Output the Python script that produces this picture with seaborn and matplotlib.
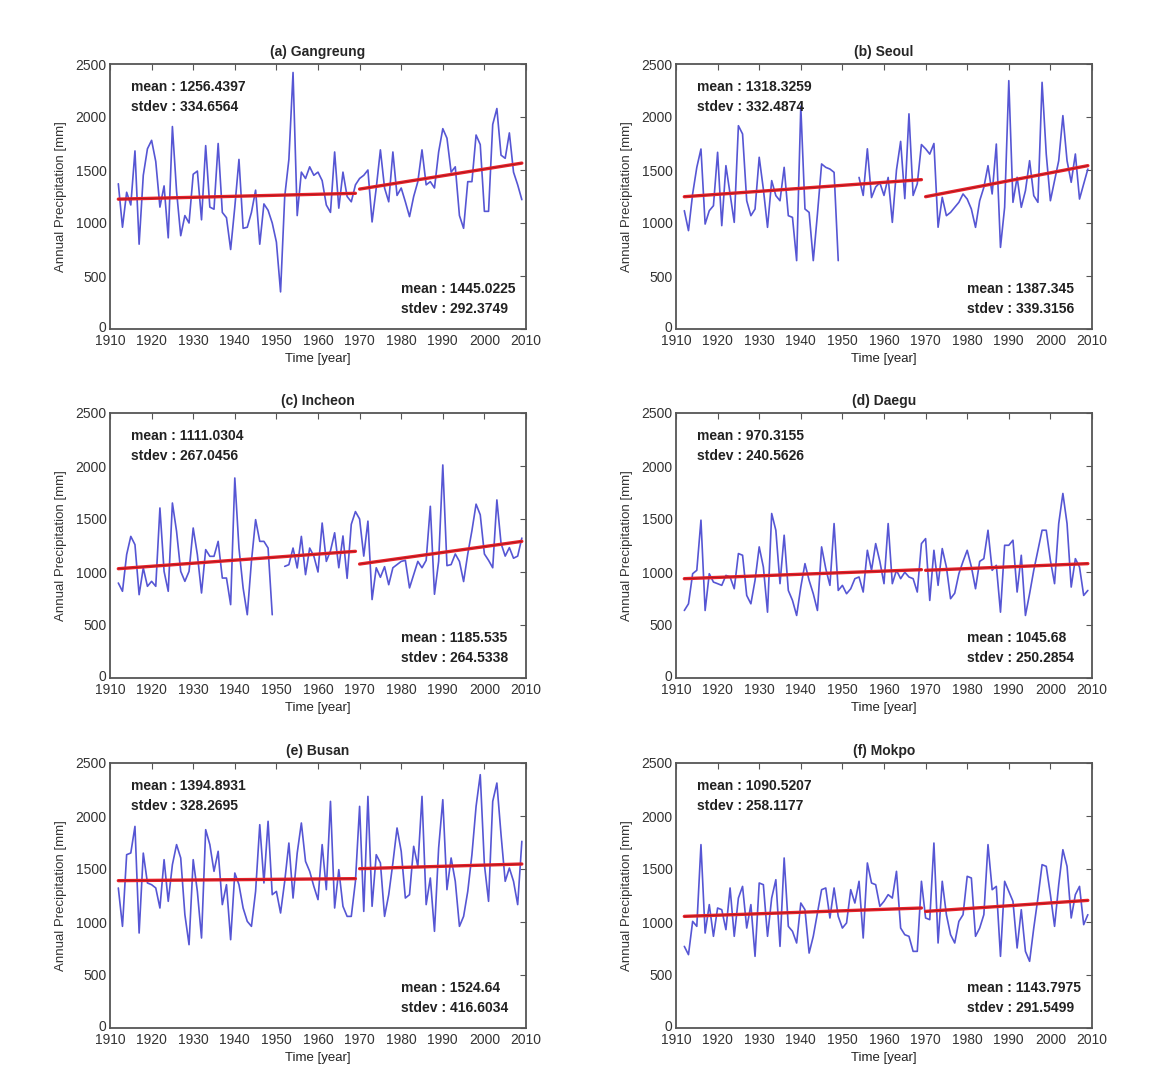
import numpy as np
import pandas as pd
import matplotlib
matplotlib.use("Agg")
import matplotlib.pyplot as plt
import matplotlib.transforms as mtransforms
import seaborn as sns

nan = np.nan
years = list(range(1912, 2010))

gangreung = [
    1370, 960, 1290, 1170, 1680, 800, 1450, 1700, 1780, 1580,
    1150, 1350, 860, 1910, 1300, 880, 1070, 1000, 1460, 1490,
    1030, 1730, 1150, 1130, 1750, 1100, 1050, 750, 1150, 1600,
    950, 960, 1100, 1310, 800, 1180, 1120, 1000, 820, 350,
    1250, 1600, 2420, 1070, 1480, 1420, 1530, 1450, 1480, 1400,
    1170, 1100, 1670, 1140, 1480, 1250, 1200, 1360, 1420, 1450,
    1500, 1010, 1330, 1690, 1330, 1200, 1670, 1260, 1330, 1200,
    1060, 1250, 1390, 1690, 1360, 1390, 1330, 1670, 1890, 1800,
    1480, 1530, 1070, 950, 1390, 1390, 1830, 1740, 1110, 1110,
    1930, 2080, 1640, 1610, 1850, 1480, 1360, 1220,
]
seoul = [
    1116, 928, 1274, 1525, 1698, 990, 1116, 1163, 1667, 975,
    1541, 1274, 1006, 1918, 1840, 1210, 1069, 1132, 1620, 1320,
    959, 1400, 1258, 1210, 1525, 1069, 1053, 645, 2100, 1132,
    1100, 645, 1085, 1557, 1525, 1509, 1478, 645, nan, nan,
    nan, nan, 1430, 1260, 1700, 1240, 1340, 1380, 1260, 1430,
    1006, 1500, 1770, 1230, 2030, 1260, 1370, 1740, 1700, 1650,
    1750, 960, 1242, 1069, 1100, 1148, 1195, 1274, 1226, 1132,
    959, 1210, 1336, 1541, 1274, 1745, 770, 1148, 2343, 1195,
    1431, 1148, 1305, 1588, 1258, 1195, 2327, 1651, 1210, 1400,
    1588, 2013, 1588, 1384, 1651, 1226, 1368, 1509,
]
incheon = [
    896, 818, 1164, 1336, 1258, 786, 1038, 865, 912, 865,
    1604, 1006, 818, 1651, 1384, 1006, 912, 1006, 1415, 1164,
    802, 1211, 1148, 1148, 1289, 943, 943, 692, 1887, 1226,
    849, 597, 1101, 1494, 1289, 1289, 1226, 597, nan, nan,
    1053, 1069, 1226, 1038, 1336, 975, 1226, 1150, 1000, 1462,
    1100, 1200, 1370, 1040, 1340, 940, 1450, 1570, 1500, 1150,
    1480, 740, 1040, 950, 1050, 880, 1040, 1070, 1100, 1110,
    850, 975, 1100, 1040, 1110, 1620, 790, 1100, 2010, 1060,
    1070, 1170, 1100, 910, 1170, 1390, 1640, 1540, 1170, 1110,
    1040, 1680, 1270, 1150, 1230, 1130, 1150, 1320,
]
daegu = [
    637, 700, 984, 1016, 1489, 637, 984, 905, 890, 874,
    968, 953, 842, 1174, 1158, 779, 700, 921, 1237, 1047,
    621, 1552, 1394, 890, 1347, 826, 732, 590, 858, 1079,
    921, 795, 637, 1237, 1032, 874, 1457, 826, 874, 795,
    842, 937, 953, 811, 1205, 1016, 1268, 1100, 890, 1457,
    890, 1016, 937, 998, 953, 937, 811, 1268, 1315, 732,
    1205, 874, 1221, 1047, 748, 800, 984, 1100, 1205, 1050,
    842, 1100, 1126, 1394, 1016, 1063, 621, 1252, 1252, 1300,
    811, 1158, 590, 795, 1016, 1205, 1394, 1394, 1110, 890,
    1457, 1741, 1457, 858, 1126, 1047, 779, 826,
]
busan = [
    1321, 959, 1635, 1651, 1902, 896, 1650, 1368, 1352, 1321,
    1132, 1588, 1195, 1541, 1730, 1604, 1069, 786, 1588, 1289,
    849, 1871, 1730, 1478, 1667, 1164, 1352, 833, 1462, 1352,
    1132, 1006, 959, 1289, 1918, 1368, 1950, 1258, 1289, 1085,
    1384, 1745, 1226, 1650, 1934, 1572, 1478, 1336, 1211, 1730,
    1305, 2138, 1132, 1494, 1148, 1053, 1053, 1384, 2091, 1100,
    2185, 1148, 1635, 1557, 1053, 1258, 1557, 1887, 1667, 1226,
    1258, 1714, 1525, 2185, 1164, 1415, 912, 1698, 2154, 1305,
    1604, 1384, 959, 1053, 1289, 1635, 2091, 2390, 1541, 1195,
    2138, 2311, 1824, 1384, 1509, 1384, 1164, 1761,
]
mokpo = [
    770, 692, 1006, 959, 1730, 896, 1164, 865, 1132, 1116,
    928, 1321, 865, 1226, 1336, 943, 1164, 676, 1368, 1352,
    865, 1226, 1399, 770, 1604, 959, 912, 802, 1179, 1116,
    707, 865, 1085, 1305, 1321, 1038, 1321, 1053, 943, 991,
    1305, 1179, 1384, 849, 1557, 1368, 1352, 1148, 1195, 1258,
    1226, 1478, 943, 880, 865, 723, 723, 1384, 1038, 1022,
    1745, 802, 1384, 1069, 880, 802, 1006, 1069, 1431, 1415,
    865, 943, 1069, 1730, 1305, 1336, 676, 1384, 1289, 1195,
    755, 1116, 723, 629, 943, 1226, 1541, 1525, 1258, 959,
    1352, 1682, 1525, 1038, 1258, 1336, 975, 1069,
]

titles = ["(a) Gangreung", "(b) Seoul", "(c) Incheon",
          "(d) Daegu", "(e) Busan", "(f) Mokpo"]
series = [gangreung, seoul, incheon, daegu, busan, mokpo]

# trend line end values: period 1 (1912-1969), period 2 (1970-2009)
trend_years = [1912, 1969, 1970, 2009]
trend_vals = [
    [1225, 1280, 1320, 1565],
    [1248, 1409, 1248, 1541],
    [1031, 1195, 1075, 1289],
    [937, 1022, 1016, 1079],
    [1390, 1409, 1503, 1547],
    [1053, 1132, 1100, 1204],
]
stats_first = [("1256.4397", "334.6564"), ("1318.3259", "332.4874"),
               ("1111.0304", "267.0456"), ("970.3155", "240.5626"),
               ("1394.8931", "328.2695"), ("1090.5207", "258.1177")]
stats_second = [("1445.0225", "292.3749"), ("1387.345", "339.3156"),
                ("1185.535", "264.5338"), ("1045.68", "250.2854"),
                ("1524.64", "416.6034"), ("1143.7975", "291.5499")]

xticks = list(range(1910, 2011, 10))
yticks = [0, 500, 1000, 1500, 2000, 2500]

sns.set_theme(style="white")
plt.rcParams["font.family"] = ["Liberation Sans", "DejaVu Sans"]

W, H = 1174, 1080
fig = plt.figure(figsize=(W / 100, H / 100), dpi=100)
fig.patch.set_facecolor("white")

lefts = [110, 676]
tops = [64, 413, 763]
aw, ah = 416, 265

BLUE = "#5656d4"
RED = "#e8222a"

for i in range(6):
    r, c = divmod(i, 2)
    ax = fig.add_axes([lefts[c] / W, 1 - (tops[r] + ah) / H, aw / W, ah / H])
    ax.set_facecolor("white")

    df = pd.DataFrame({"year": years, "precip": series[i]})
    df["seg"] = df["precip"].isna().cumsum()
    df = df.dropna()
    sns.lineplot(data=df, x="year", y="precip", units="seg", estimator=None,
                 color=BLUE, lw=1.2, ax=ax)

    tr = pd.DataFrame({"year": trend_years, "precip": trend_vals[i],
                       "seg": [0, 0, 1, 1]})
    sns.lineplot(data=tr, x="year", y="precip", units="seg", estimator=None,
                 color=RED, lw=2.4, ax=ax)
    sns.lineplot(data=tr, x="year", y="precip", units="seg", estimator=None,
                 color="black", lw=0.6, alpha=0.3, ax=ax)

    ax.set_xlim(1910, 2010)
    ax.set_ylim(0, 2500)
    ax.set_xticks(xticks)
    ax.set_yticks(yticks)
    ax.tick_params(direction="in", top=True, right=True, length=4, width=0.8,
                   labelsize=10, colors="#555555", labelcolor="#333333")
    ax.tick_params(axis="y", pad=2.5)
    ax.tick_params(axis="x", pad=3.5)
    # lift the "0" label slightly, as in the reference
    zero_lab = ax.get_yticklabels()[0]
    zero_lab.set_transform(zero_lab.get_transform() +
                           mtransforms.ScaledTranslation(0, 2 / 72, fig.dpi_scale_trans))
    for s in ax.spines.values():
        s.set_color("#555555")
        s.set_linewidth(1.3)

    ax.set_xlabel("Time [year]", fontsize=9.5, labelpad=4, color="#222222")
    ax.set_ylabel("Annual Precipitation [mm]", fontsize=9.5, labelpad=6,
                  color="#333333")
    ax.set_title(titles[i], fontsize=10, fontweight="bold", pad=6)

    m1, s1 = stats_first[i]
    m2, s2 = stats_second[i]
    kw = dict(transform=ax.transAxes, fontsize=10, fontweight="bold",
              va="center", ha="left", color="#222222")
    ax.text(0.05, 0.913, f"mean : {m1}", **kw)
    ax.text(0.05, 0.837, f"stdev : {s1}", **kw)
    ax.text(0.70, 0.152, f"mean : {m2}", **kw)
    ax.text(0.70, 0.076, f"stdev : {s2}", **kw)

fig.savefig("out.png", dpi=100, facecolor="white")
